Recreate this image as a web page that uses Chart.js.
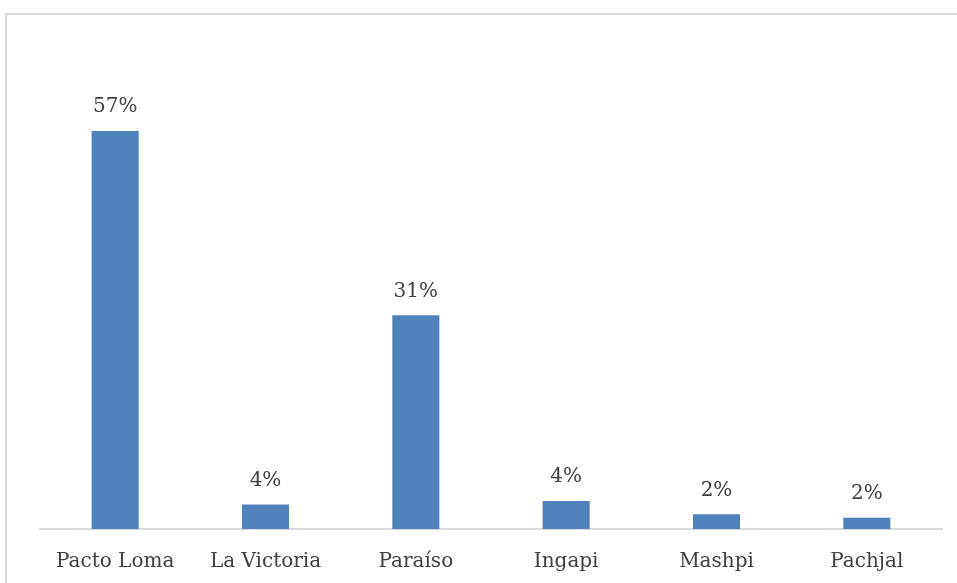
<!DOCTYPE html>
<html lang="es">
<head>
    <meta charset="UTF-8">
    <title>Porcentaje por comunidad</title>
    <script src="https://cdn.jsdelivr.net/npm/chart.js"></script>
    <style>
        html, body { margin: 0; padding: 0; background: #fff; overflow: hidden; }
        /* thin grey frame around the chart, like the Office chart border */
        .frame {
            position: absolute; left: 5px; top: 13px;
            width: 1000px; height: 700px;
            border: 2px solid #d9d9d9;
        }
        .wrap { position: absolute; left: 0; top: 0; width: 957px; height: 583px; }
    </style>
</head>
<body>
    <div class="frame"></div>
    <div class="wrap"><canvas id="chart"></canvas></div>

    <script>
        // Data
        const communities = ['Pacto Loma', 'La Victoria', 'Paraíso', 'Ingapi', 'Mashpi', 'Pachjal'];
        const shares = [57, 3.5, 30.6, 4.0, 2.1, 1.6];

        const barColor = '#4f81bd';
        const textColor = '#404040';
        const labelFont = { family: "'DejaVu Serif', serif", size: 20 };

        // Draws the percentage above each bar
        const valueLabels = {
            id: 'valueLabels',
            afterDatasetsDraw(chart) {
                const ctx = chart.ctx;
                const meta = chart.getDatasetMeta(0);
                ctx.save();
                ctx.font = labelFont.size + 'px ' + labelFont.family;
                ctx.fillStyle = textColor;
                ctx.textAlign = 'center';
                ctx.textBaseline = 'middle';
                meta.data.forEach((bar, i) => {
                    ctx.fillText(Math.round(shares[i]) + '%', bar.x, bar.y - 24);
                });
                ctx.restore();
            }
        };

        new Chart(document.getElementById('chart'), {
            type: 'bar',
            data: {
                labels: communities,
                datasets: [{
                    data: shares,
                    backgroundColor: barColor,
                    barPercentage: 0.5,
                    categoryPercentage: 0.626
                }]
            },
            options: {
                responsive: true,
                maintainAspectRatio: false,
                animation: false,
                layout: { padding: { left: 40, right: 15, top: 110, bottom: 0 } },
                plugins: {
                    legend: { display: false },
                    tooltip: { enabled: false }
                },
                scales: {
                    x: {
                        grid: { display: false },
                        border: { display: true, color: '#d9d9d9', width: 2 },
                        ticks: { color: textColor, font: labelFont, padding: 13 },
                        afterFit(scale) { scale.height = 54; }
                    },
                    y: {
                        display: false,
                        min: 0,
                        max: 60
                    }
                }
            },
            plugins: [valueLabels]
        });
    </script>
</body>
</html>
